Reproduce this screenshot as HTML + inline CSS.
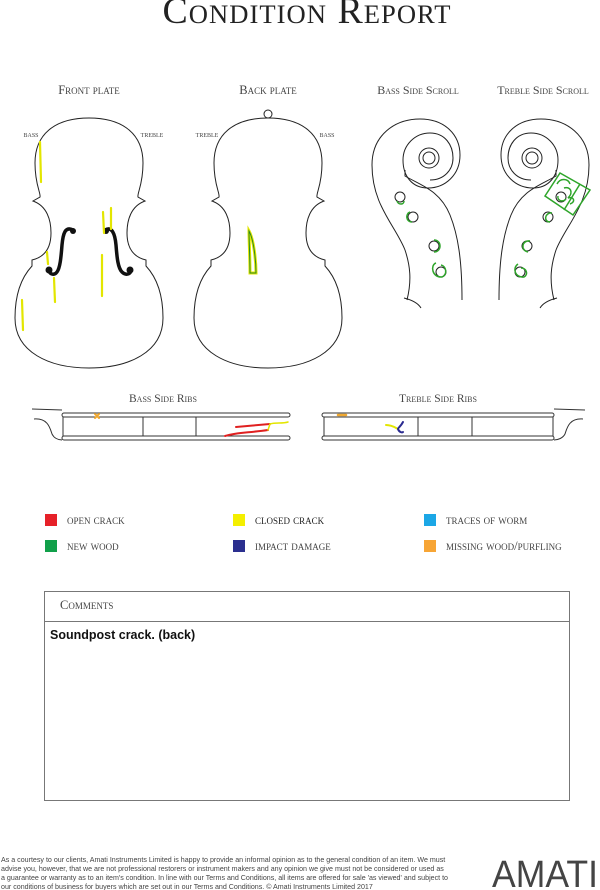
<!DOCTYPE html>
<html><head><meta charset="utf-8"><style>
html,body{margin:0;padding:0;background:#fff;}
svg{display:block}
.sc{font-family:"Liberation Serif",serif;font-variant:small-caps;fill:#444;}
</style></head><body>
<svg width="600" height="890" viewBox="0 0 600 890" xmlns="http://www.w3.org/2000/svg">
<text x="307" y="23" text-anchor="middle" class="sc" textLength="289" lengthAdjust="spacingAndGlyphs" style="font-size:37px;fill:#222;letter-spacing:1px">Condition Report</text>

<text x="89" y="94" text-anchor="middle" class="sc" style="font-size:12.5px">Front plate</text>
<text x="268" y="94" text-anchor="middle" class="sc" style="font-size:12.5px">Back plate</text>
<text x="418" y="94" text-anchor="middle" class="sc" style="font-size:12px">Bass Side Scroll</text>
<text x="543" y="94" text-anchor="middle" class="sc" style="font-size:12px">Treble Side Scroll</text>

<text x="31" y="137" text-anchor="middle" class="sc" style="font-size:8.5px">bass</text>
<text x="152" y="137" text-anchor="middle" class="sc" style="font-size:8.5px">treble</text>
<text x="207" y="137" text-anchor="middle" class="sc" style="font-size:8.5px">treble</text>
<text x="327" y="137" text-anchor="middle" class="sc" style="font-size:8.5px">bass</text>

<defs>
<path id="vb" fill="none" stroke="#222" stroke-width="1" d="M0,118 C35,118 54,135 54,163 C54,185 48,193 49,197 L56,201 C42,206 38,220 38,233 C38,248 44,257 57,260 L57,266 C70,280 74,300 74,318 C74,352 40,368 0,368 C-40,368 -74,352 -74,318 C-74,300 -70,280 -57,266 L-57,260 C-44,257 -38,248 -38,233 C-38,220 -42,206 -56,201 L-49,197 C-48,193 -54,185 -54,163 C-54,135 -35,118 0,118 Z"/>
<g id="scroll" fill="none" stroke="#222" stroke-width="1">
<path d="M407,300 C412,280 410,265 405,250 C395,225 372,205 372,165 C372,135 395,119 420,119 C445,119 460,135 460,155 C460,175 445,188 428,188 C412,188 403,176 403,160 C403,145 415,133 430,133 C445,133 453,145 453,158 C453,170 444,180 430,180"/>
<path d="M405,170 L405,176 C420,185 440,190 450,215 C458,235 462,260 462,300"/>
<circle cx="429" cy="158" r="10"/><circle cx="429" cy="158" r="6"/>
<path d="M404,298 C412,300 418,303 421,308"/>
<circle cx="400" cy="197" r="5"/><circle cx="413" cy="217" r="5"/><circle cx="434" cy="246" r="5"/><circle cx="441" cy="272" r="5"/>
</g>
</defs>

<use href="#vb" x="89"/>
<circle cx="268" cy="114" r="4" fill="#fff" stroke="#222" stroke-width="1"/>
<use href="#vb" x="268"/>

<g fill="none" stroke="#111" stroke-width="3.5" stroke-linecap="round">
<path d="M73,230 C65,226 63,234 62,245 C61,258 60,268 57,272 C54,276 49,274 49,270"/>
<path d="M105,230 C112,226 115,234 116,245 C117,258 118,268 122,272 C126,276 131,274 131,270"/>
</g>
<g fill="#111"><circle cx="73" cy="231" r="3"/><circle cx="49" cy="270" r="3.5"/><circle cx="106" cy="231" r="3"/><circle cx="130" cy="270" r="3.5"/></g>

<g stroke="#e3e600" stroke-width="2.2" fill="none" stroke-linecap="round">
<path d="M40,142 L41,182"/><path d="M103,212 L104,233"/><path d="M111,208 L111,229"/>
<path d="M47,252 L48,264"/><path d="M54,278 L55,302"/><path d="M102,255 L102,296"/><path d="M22,300 L23,330"/>
</g>
<path d="M249,231 C254,240 256,262 256,273 L250,273 C250,258 249,240 249,231 Z" fill="#fff" stroke="#e3e600" stroke-width="3"/>
<path d="M249,231 C254,240 256,262 256,273 L250,273 C250,258 249,240 249,231 Z" fill="none" stroke="#2a8a20" stroke-width="1"/>

<use href="#scroll"/>
<use href="#scroll" transform="translate(961,0) scale(-1,1)"/>
<g fill="none" stroke="#2ea52a" stroke-width="1.5">
<path d="M397,201 C398,205 404,205 404,201"/>
<path d="M410,212 C405,214 406,222 412,222"/>
<path d="M434,240 C442,240 442,252 434,252"/>
<path d="M436,263 C430,265 432,278 442,277 C448,274 446,266 441,265"/>
<path d="M566,199 C562,203 557,200 558,196"/>
<path d="M552,213 C545,212 543,222 550,222"/>
<path d="M530,241 C522,240 520,250 528,252"/>
<path d="M518,264 C512,268 515,278 524,277 C529,274 526,268 521,268"/>
<path d="M560,173 L590,190 L573,215 L545,196 Z"/>
<path d="M557,184 C560,178 568,178 570,184 M564,188 C570,186 574,192 568,198 C574,196 576,202 570,204"/>
<path d="M580,184 L564,210"/>
</g>

<text x="163" y="402" text-anchor="middle" class="sc" style="font-size:11.5px">Bass Side Ribs</text>
<text x="438" y="402" text-anchor="middle" class="sc" style="font-size:11.5px">Treble Side Ribs</text>
<g fill="none" stroke="#333" stroke-width="1">
<rect x="62" y="413" width="228" height="4" rx="2"/>
<rect x="62" y="436" width="228" height="4" rx="2"/>
<path d="M63,417 V436 M143,417 V436 M196,417 V436"/>
<path d="M32,409 L62,410 M34,419 C48,418 50,428 52,434 C54,438 58,440 62,440"/>
<rect x="322" y="413" width="232" height="4" rx="2"/>
<rect x="322" y="436" width="232" height="4" rx="2"/>
<path d="M324,417 V436 M418,417 V436 M472,417 V436 M553,417 V436"/>
<path d="M554,409 L585,410 M583,419 C569,418 567,428 565,434 C563,438 558,440 554,440"/>
</g>
<g fill="none" stroke-linecap="round">
<path d="M95,414 L99,418 M99,414 L95,418" stroke="#f0a830" stroke-width="2"/>
<path d="M338,415 L346,415" stroke="#f0a830" stroke-width="2.5"/>
<path d="M225,436 C238,432 248,433 268,430" stroke="#e02020" stroke-width="2"/>
<path d="M236,427 C248,426 258,425 270,424" stroke="#e02020" stroke-width="2"/>
<path d="M268,430 L270,424 C276,422 282,424 288,422" stroke="#e3e600" stroke-width="1.5"/>
<path d="M386,425 C392,425 396,428 398,429" stroke="#e3e600" stroke-width="2"/>
<path d="M403,422 C401,426 398,428 398,429 C399,432 402,433 403,432" stroke="#2a2a90" stroke-width="2"/>
</g>

<g style="font-family:'Liberation Serif',serif;font-variant:small-caps;font-size:12.5px;fill:#444">
<rect x="45" y="514" width="12" height="12" fill="#e62129"/><text x="67" y="524">open crack</text>
<rect x="233" y="514" width="12" height="12" fill="#f4ef00"/><text x="255" y="524" style="fill:#222">closed crack</text>
<rect x="424" y="514" width="12" height="12" fill="#1ba7e6"/><text x="446" y="524">traces of worm</text>
<rect x="45" y="540" width="12" height="12" fill="#11a04a"/><text x="67" y="550">new wood</text>
<rect x="233" y="540" width="12" height="12" fill="#2b2f8f"/><text x="255" y="550">impact damage</text>
<rect x="424" y="540" width="12" height="12" fill="#f7a535"/><text x="446" y="550">missing wood/purfling</text>
</g>

<rect x="44.5" y="591.5" width="525" height="209" fill="none" stroke="#777" stroke-width="1"/>
<line x1="44.5" y1="621.5" x2="569.5" y2="621.5" stroke="#777" stroke-width="1"/>
<text x="60" y="609" class="sc" style="font-size:12.5px">Comments</text>
<text x="50" y="639" style="font-family:'Liberation Sans',sans-serif;font-size:12.5px;font-weight:bold;fill:#111">Soundpost crack. (back)</text>

<g style="font-family:'Liberation Sans',sans-serif;font-size:7.1px;fill:#444">
<text x="1" y="862">As a courtesy to our clients, Amati Instruments Limited is happy to provide an informal opinion as to the general condition of an item. We must</text>
<text x="1" y="871">advise you, however, that we are not professional restorers or instrument makers and any opinion we give must not be considered or used as</text>
<text x="1" y="880">a guarantee or warranty as to an item's condition. In line with our Terms and Conditions, all items are offered for sale 'as viewed' and subject to</text>
<text x="1" y="889">our conditions of business for buyers which are set out in our Terms and Conditions. © Amati Instruments Limited 2017</text>
</g>
<text x="492" y="887" textLength="106" lengthAdjust="spacingAndGlyphs" style="font-family:'Liberation Sans',sans-serif;font-size:38px;fill:#444">AMATI</text>
</svg>
</body></html>
